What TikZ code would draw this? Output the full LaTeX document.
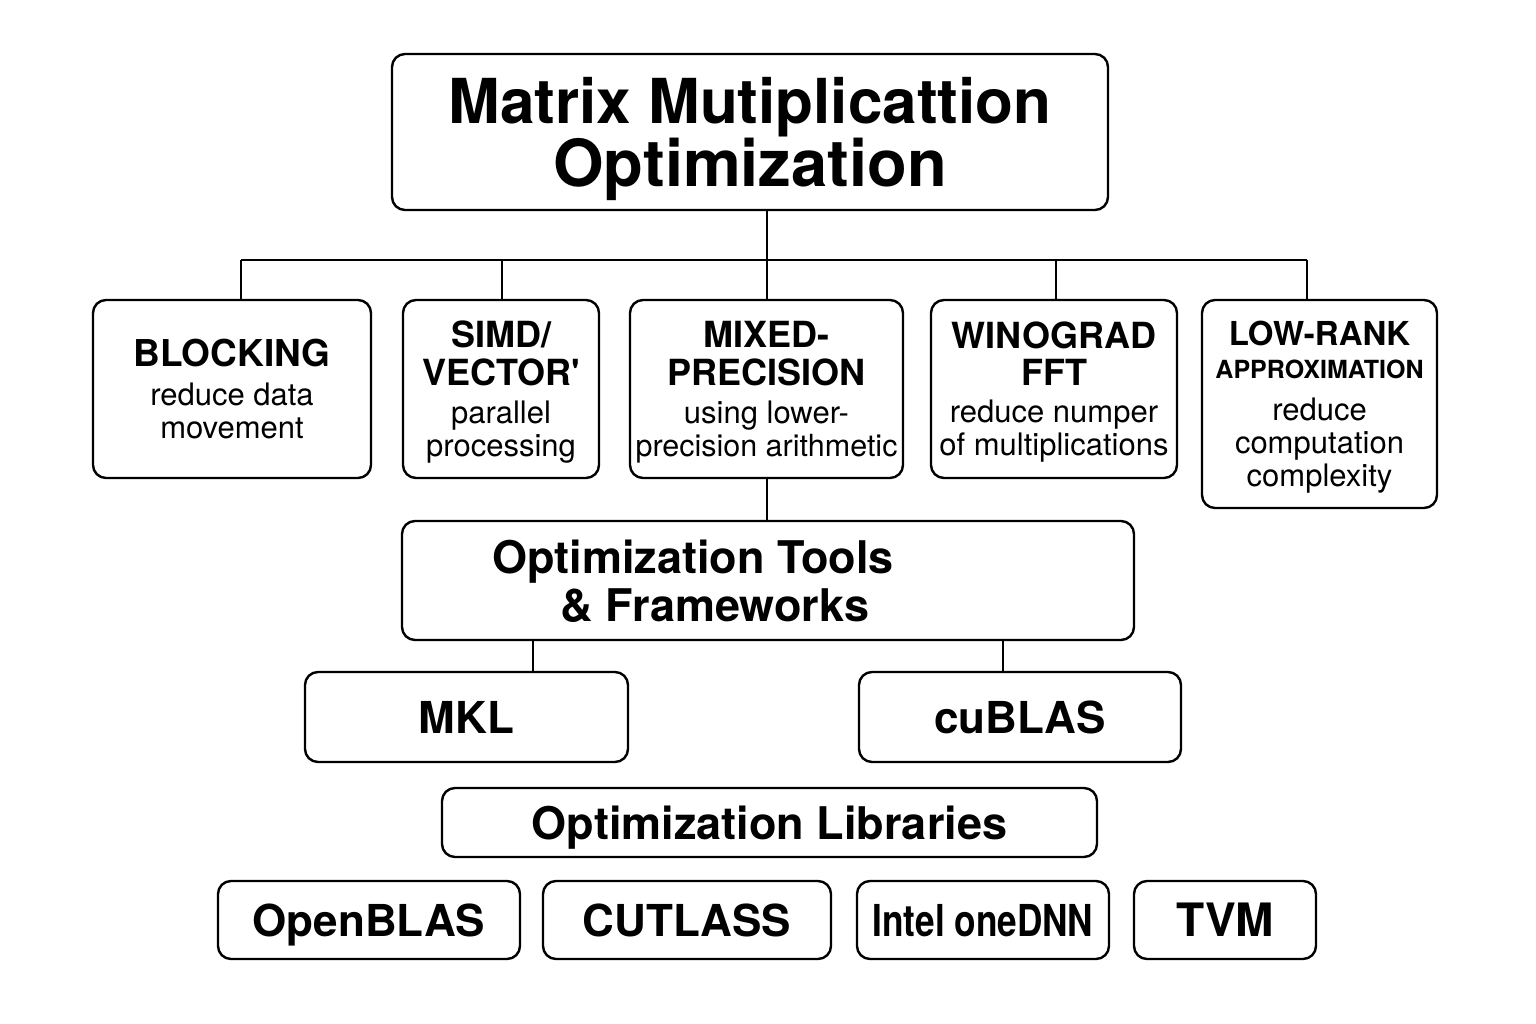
\documentclass[tikz,border=0pt]{standalone}
\usepackage{fontspec}
\setmainfont{TeX Gyre Heros}
\newfontfamily\condf[FakeStretch=0.8]{TeX Gyre Heros}
\newcommand\myfs[2]{\fontsize{#1}{#2}\selectfont}
\newcommand\hdA{\bfseries\myfs{36}{38}}
\newcommand\hdB{\bfseries\myfs{25}{27}}
\begin{document}
\begin{tikzpicture}[x=1pt,y=-1pt,
  box/.style={draw, line width=2.4pt, rounded corners=13pt, inner sep=0pt, align=center, text depth=0pt},
  conn/.style={line width=2pt},
  desc/.style={font=\myfs{31}{33}},
  big/.style={font=\bfseries\myfs{44}{48}}]
\useasboundingbox[fill=white] (0,0) rectangle (1536,1024);

% title
\node[box, minimum width=716pt, minimum height=156pt, font=\bfseries\myfs{62}{63}] (title) at (750,132) {Matrix Mutiplicattion\\{\myfs{65}{63}Optimization}};

% level 2
\node[box, desc, minimum width=278pt, minimum height=178pt] (blocking) at (232,389)
  {{\bfseries\myfs{37}{39}BLOCKING}\\[6pt]reduce data\\movement};
\node[box, desc, minimum width=196pt, minimum height=178pt] (simd) at (501,389)
  {{\hdA SIMD/}\\[5pt]{\hdA VECTOR\textquotesingle}\\[5pt]parallel\\processing};
\node[box, desc, minimum width=273pt, minimum height=178pt] (mixed) at (766.5,389)
  {{\hdA MIXED-}\\[5pt]{\hdA PRECISION}\\[5pt]using lower-\\{\myfs{30.5}{33}precision arithmetic}};
\node[box, desc, minimum width=246pt, minimum height=178pt] (wino) at (1054,389)
  {{\hdA WINOGRAD}\\[4pt]{\hdA FFT}\\[4pt]reduce numper\\of multiplications};
\node[box, desc, minimum width=235pt, minimum height=208pt] (lowrank) at (1319.5,404)
  {{\bfseries\myfs{33}{35}LOW-RANK}\\{\hdB APPROXIMATION}\\[9pt]reduce\\computation\\complexity};

% tools
\node[box, minimum width=732pt, minimum height=119pt] (tools) at (768,580.5) {};
\node[font=\bfseries\myfs{45}{48}, align=center, inner sep=0pt, text depth=0pt] (toolstext) at (704,581)
  {Optimization Tools\hspace*{22pt}\\\hspace*{22pt}\& Frameworks};

\node[box, big, minimum width=323pt, minimum height=90pt] (mkl) at (466.5,717) {MKL};
\node[box, big, minimum width=322pt, minimum height=90pt] (cublas) at (1020,717) {cuBLAS};

\node[box, font=\bfseries\myfs{45}{48}, minimum width=655pt, minimum height=69pt] (libs) at (769.5,822.5) {Optimization Libraries};

\node[box, big, minimum width=302pt, minimum height=78pt] (openblas) at (369,920) {OpenBLAS};
\node[box, big, minimum width=288pt, minimum height=78pt] (cutlass) at (687,920) {CUTLASS};
\node[box, font=\condf\bfseries\myfs{44}{48}, minimum width=252pt, minimum height=78pt] (onednn) at (983,920) {Intel oneDNN};
\node[box, font=\bfseries\myfs{46}{48}, minimum width=182pt, minimum height=78pt] (tvm) at (1225,920) {TVM};

% connectors
\coordinate (dB) at (241,260);
\coordinate (dS) at (502,260);
\coordinate (dT) at (767,260);
\coordinate (dW) at (1056,260);
\coordinate (dL) at (1307,260);
\coordinate (dM) at (533,656);
\coordinate (dC) at (1003,656);

\draw[conn] (title.south -| dT) -- (dT |- mixed.north);
\draw[conn] (dB) -- (dL);
\draw[conn] (dB) -- (dB |- blocking.north);
\draw[conn] (dS) -- (dS |- simd.north);
\draw[conn] (dW) -- (dW |- wino.north);
\draw[conn] (dL) -- (dL |- lowrank.north);
\draw[conn] (dT |- mixed.south) -- (dT |- tools.north);
\draw[conn] (dM |- tools.south) -- (dM |- mkl.north);
\draw[conn] (dC |- tools.south) -- (dC |- cublas.north);
\end{tikzpicture}
\end{document}
